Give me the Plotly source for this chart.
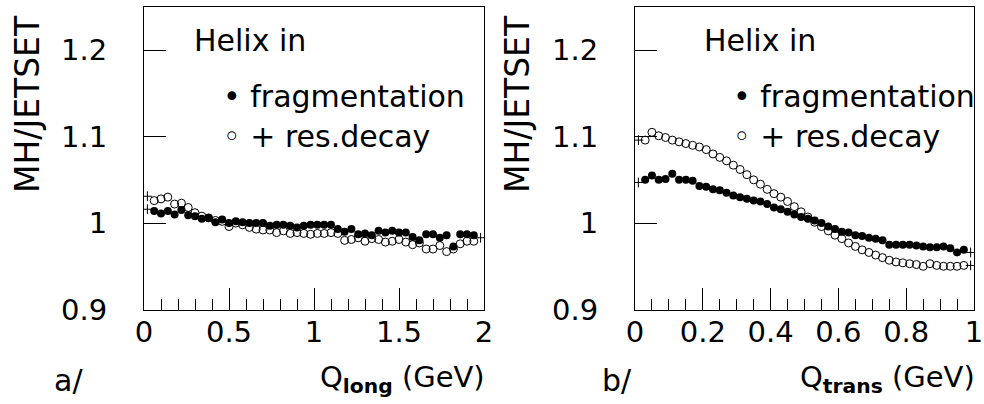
import plotly.graph_objects as go

W, H = 984, 404

# ---------------- data ----------------
# panel a: Q_long, bins of 0.04 GeV
qlong_x = [round(0.06 + 0.04 * i, 2) for i in range(48)]
qlong_frag = [1.014, 1.011, 1.014, 1.010, 1.015, 1.009, 1.008, 1.005, 1.006, 1.001,
              1.004, 1.000, 1.002, 1.001, 1.000, 1.000, 1.000, 0.997, 0.998, 0.998,
              0.997, 0.995, 0.997, 0.998, 0.998, 0.998, 0.998, 0.993, 0.990, 0.993,
              0.987, 0.988, 0.986, 0.991, 0.989, 0.991, 0.989, 0.989, 0.984, 0.980,
              0.987, 0.987, 0.983, 0.986, 0.973, 0.987, 0.987, 0.986]
qlong_res = [1.026, 1.028, 1.030, 1.022, 1.023, 1.018, 1.012, 1.008, 1.006, 1.003,
             1.002, 0.996, 1.000, 0.998, 0.995, 0.993, 0.992, 0.992, 0.989, 0.991,
             0.988, 0.989, 0.988, 0.987, 0.988, 0.988, 0.989, 0.988, 0.980, 0.981,
             0.983, 0.979, 0.982, 0.981, 0.978, 0.979, 0.981, 0.978, 0.975, 0.977,
             0.970, 0.970, 0.974, 0.967, 0.970, 0.976, 0.979, 0.979]
qlong_edge_x = [0.02, 0.02, 1.98]
qlong_edge_y = [1.031, 1.016, 0.983]

# panel b: Q_trans, bins of 0.02 GeV
qtrans_x = [round(0.03 + 0.02 * i, 2) for i in range(48)]
qtrans_frag = [1.050, 1.055, 1.050, 1.051, 1.057, 1.050, 1.050, 1.049, 1.043, 1.042,
               1.039, 1.038, 1.035, 1.032, 1.030, 1.028, 1.026, 1.025, 1.022, 1.018,
               1.016, 1.013, 1.010, 1.007, 1.005, 1.003, 1.000, 0.996, 0.993, 0.990,
               0.989, 0.986, 0.985, 0.983, 0.982, 0.980, 0.975, 0.975, 0.975, 0.975,
               0.974, 0.973, 0.972, 0.972, 0.973, 0.971, 0.966, 0.969]
qtrans_res = [1.096, 1.105, 1.101, 1.099, 1.096, 1.094, 1.092, 1.090, 1.088, 1.085,
              1.080, 1.076, 1.072, 1.067, 1.062, 1.056, 1.050, 1.045, 1.039, 1.034,
              1.030, 1.025, 1.019, 1.013, 1.007, 1.001, 0.996, 0.991, 0.986, 0.982,
              0.977, 0.973, 0.969, 0.966, 0.963, 0.960, 0.957, 0.955, 0.954, 0.953,
              0.952, 0.950, 0.953, 0.951, 0.950, 0.950, 0.950, 0.951]
qtrans_edge_x = [0.01, 0.01, 0.99, 0.99]
qtrans_edge_y = [1.096, 1.047, 0.966, 0.951]

y_ticks = [0.9, 1.0, 1.1, 1.2]
y_ticktext = ["0.9", "1", "1.1", "1.2"]
xa_ticks = [0, 0.5, 1, 1.5, 2]
xa_ticktext = ["0", "0.5", "1", "1.5", "2"]
xb_ticks = [0, 0.2, 0.4, 0.6, 0.8, 1]
xb_ticktext = ["0", "0.2", "0.4", "0.6", "0.8", "1"]

# ---------------- figure ----------------
FONT = "DejaVu Sans"
fig = go.Figure()

def add_panel(xref, yref, x, frag, res, ex, ey):
    fig.add_trace(go.Scatter(x=x, y=res, mode="markers", xaxis=xref, yaxis=yref,
                             marker=dict(symbol="circle-open", size=8, color="black",
                                         line=dict(width=1, color="black")),
                             showlegend=False))
    fig.add_trace(go.Scatter(x=x, y=frag, mode="markers", xaxis=xref, yaxis=yref,
                             marker=dict(symbol="circle", size=8, color="black"),
                             showlegend=False))
    fig.add_trace(go.Scatter(x=ex, y=ey, mode="markers", xaxis=xref, yaxis=yref,
                             marker=dict(symbol="cross-thin", size=7,
                                         line=dict(width=1, color="black")),
                             showlegend=False))

add_panel("x", "y", qlong_x, qlong_frag, qlong_res, qlong_edge_x, qlong_edge_y)
add_panel("x2", "y2", qtrans_x, qtrans_frag, qtrans_res, qtrans_edge_x, qtrans_edge_y)

ydom = [1 - 309.5 / H, 1 - 7 / H]
xdom_a = [144 / W, 484 / W]
xdom_b = [635 / W, 974 / W]

common_x = dict(showline=True, linecolor="black", linewidth=1, mirror=True,
                ticks="inside", ticklen=22, tickwidth=1, tickcolor="black",
                showgrid=False, zeroline=False, ticklabelstandoff=-3, automargin=False,
                tickfont=dict(family=FONT, size=29, color="black"))
common_y = dict(showline=True, linecolor="black", linewidth=1, mirror=True,
                ticks="inside", ticklen=22, tickwidth=1, tickcolor="black",
                showgrid=False, zeroline=False, range=[0.9, 1.25], automargin=False,
                tickvals=y_ticks, ticktext=y_ticktext, ticklabelstandoff=30,
                tickfont=dict(family=FONT, size=29, color="black"), domain=ydom)

fig.update_layout(
    template="none",
    width=W, height=H, margin=dict(l=0, r=0, t=0, b=0, autoexpand=False),
    paper_bgcolor="white", plot_bgcolor="white", showlegend=False,
    xaxis=dict(common_x, domain=xdom_a, range=[0, 2], tickvals=xa_ticks,
               ticktext=xa_ticktext, anchor="y",
               minor=dict(dtick=0.1, ticklen=11, ticks="inside", tickcolor="black",
                          tickwidth=1, showgrid=False)),
    yaxis=dict(common_y, anchor="x"),
    xaxis2=dict(common_x, domain=xdom_b, range=[0, 1], tickvals=xb_ticks,
                ticktext=xb_ticktext, anchor="y2",
                minor=dict(dtick=0.05, ticklen=11, ticks="inside", tickcolor="black",
                           tickwidth=1, showgrid=False)),
    yaxis2=dict(common_y, anchor="x2"),
)

def ann(text, x, y, size=27, xanchor="left", textangle=0):
    fig.add_annotation(text=text, x=x / W, y=1 - y / H, xref="paper", yref="paper",
                       xanchor=xanchor, yanchor="middle", showarrow=False,
                       textangle=textangle, borderpad=0,
                       font=dict(family=FONT, size=size, color="black"))

# y-axis titles
ann("MH/JETSET", 27, 104, size=33, xanchor="center", textangle=-90)
ann("MH/JETSET", 517, 104, size=33, xanchor="center", textangle=-90)
# x-axis titles
ann("Q<sub><b>long</b></sub> (GeV)", 486, 379, size=29, xanchor="right")
ann("Q<sub><b>trans</b></sub> (GeV)", 976, 379, size=29, xanchor="right")
# panel labels
ann("a/", 53, 380, size=30)
ann("b/", 601, 380, size=30)
# legends
for x0 in (193, 703):
    ann("Helix in", x0, 41, size=30)
    ann("\u2022 fragmentation", x0 + 29, 96, size=30)
    ann("\u25e6 + res.decay", x0 + 29, 136, size=30)

fig.write_html("out.html")
